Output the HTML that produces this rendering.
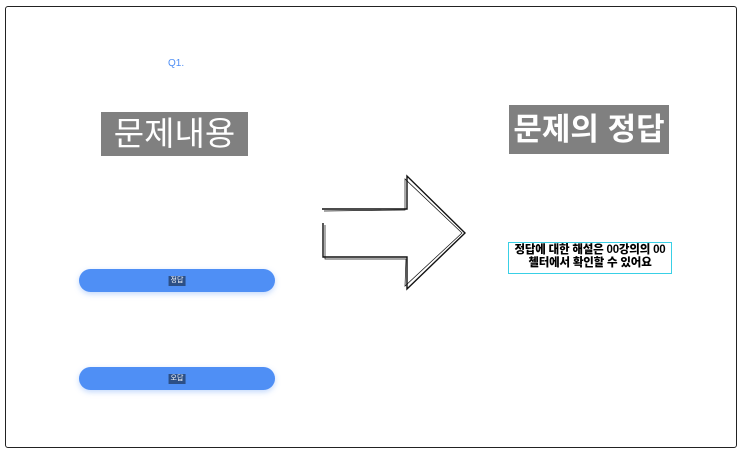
<!DOCTYPE html>
<html><head><meta charset="utf-8"><style>
body{margin:0;width:743px;height:454px;background:#fff;position:relative;overflow:hidden;font-family:"Liberation Sans","Noto Sans CJK KR",sans-serif}
.a{position:absolute}
.frame{left:5px;top:6px;width:730px;height:440px;border:1.5px solid #222;border-radius:3px}
.title{background:#808080;color:#fff;text-align:center;white-space:nowrap}
.btn{background:#4f8ff5;border-radius:12px;box-shadow:0 2px 6px rgba(79,143,245,0.35);width:196px;height:23px;left:79px}
.lbl{position:absolute;left:50%;top:50%;transform:translate(-50%,-50%);background:#2c4f86;color:#fff;font-size:7px;padding:0 2px;line-height:10px}
</style></head><body>
<div class="a frame"></div>
<div class="a" style="left:168px;top:58px;font-size:10px;color:#4f8ff5">Q1.</div>
<div class="a title" style="left:101px;top:112px;width:147px;height:44px;font-size:33px;line-height:44px">문제내용</div>
<div class="a title" style="left:509px;top:105px;width:160px;height:49px;font-size:31px;line-height:49px;font-weight:bold">문제의 정답</div>
<svg class="a" style="left:0;top:0" width="743" height="454">
<g fill="none" stroke="#111" stroke-width="1.4">
<polyline points="322,209 407,209 407,176 465,233 407,289 407,257 323,257 323,223"/>
<polyline points="324,211 405,210 405,179 462,233 405,286 406,259 325,259 325,225" stroke-width="0.7"/>
</g></svg>
<div class="a" style="left:508px;top:242px;width:162px;height:29px;border:1px solid #39d0e6;font-size:11.5px;font-weight:900;line-height:13px;text-align:center;padding-top:1px;color:#000;white-space:nowrap;letter-spacing:-0.2px">정답에 대한 해설은 00강의의 00<br>첼터에서 확인할 수 있어요</div>
<div class="a btn" style="top:269px"><span class="lbl">정답</span></div>
<div class="a btn" style="top:367px"><span class="lbl">오답</span></div>
</body></html>
